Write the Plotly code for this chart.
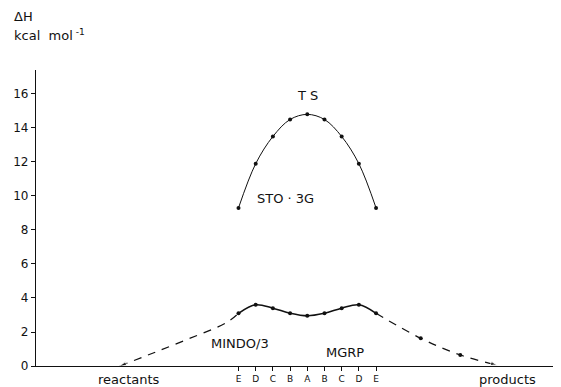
import plotly.graph_objects as go

# reaction-coordinate categories (A = transition state)
step_labels = ["E", "D", "C", "B", "A", "B", "C", "D", "E"]
step_pos = [-4, -3, -2, -1, 0, 1, 2, 3, 4]

# STO-3G energies along the path (kcal/mol)
sto3g = [9.3, 11.9, 13.5, 14.5, 14.8, 14.5, 13.5, 11.9, 9.3]
# MINDO/3 energies along the path (kcal/mol)
mindo = [3.1, 3.6, 3.4, 3.1, 2.95, 3.1, 3.4, 3.6, 3.1]

# dashed MINDO/3 branches toward reactants / products
react_x = [-10.9, -9.0, -6.9, -4.7, -4.0]
react_y = [0.0, 0.75, 1.6, 2.55, 3.1]
prod_x = [4.0, 6.6, 8.9, 11.05]
prod_y = [3.1, 1.63, 0.65, 0.05]
prod_marker_x = [6.6, 8.9]
prod_marker_y = [1.63, 0.65]

y_ticks = [0, 2, 4, 6, 8, 10, 12, 14, 16]

FONT = "DejaVu Sans"
BLACK = "#111111"

fig = go.Figure()

dash_line = dict(color=BLACK, width=1.2, dash="8px,7px", shape="spline")
fig.add_trace(go.Scatter(x=react_x, y=react_y, mode="lines", line=dash_line,
                         hoverinfo="skip", showlegend=False))
fig.add_trace(go.Scatter(x=prod_x, y=prod_y, mode="lines", line=dash_line,
                         hoverinfo="skip", showlegend=False))
fig.add_trace(go.Scatter(x=prod_marker_x, y=prod_marker_y, mode="markers",
                         marker=dict(color=BLACK, size=4),
                         hoverinfo="skip", showlegend=False))
# arrowheads at the ends of the dashed branches
fig.add_trace(go.Scatter(x=[react_x[1], react_x[0]], y=[react_y[1], react_y[0]],
                         mode="markers",
                         marker=dict(color=BLACK, size=[0, 7], symbol="arrow",
                                     angleref="previous"),
                         hoverinfo="skip", showlegend=False))
fig.add_trace(go.Scatter(x=[prod_x[-2], prod_x[-1]], y=[prod_y[-2], prod_y[-1]],
                         mode="markers",
                         marker=dict(color=BLACK, size=[0, 7], symbol="arrow",
                                     angleref="previous"),
                         hoverinfo="skip", showlegend=False))

fig.add_trace(go.Scatter(x=step_pos, y=sto3g, mode="lines+markers",
                         line=dict(color=BLACK, width=1, shape="spline"),
                         marker=dict(color=BLACK, size=4),
                         showlegend=False))
fig.add_trace(go.Scatter(x=step_pos, y=mindo, mode="lines+markers",
                         line=dict(color=BLACK, width=1.6, shape="spline"),
                         marker=dict(color=BLACK, size=4),
                         showlegend=False))

txt = dict(family=FONT, size=13, color=BLACK)
annotations = [
    dict(x=0, y=15.9, text="T S", showarrow=False, font=txt),
    dict(x=-1.28, y=9.88, text="STO · 3G", showarrow=False, font=txt),
    dict(x=-3.9, y=1.35, text="MINDO/3", showarrow=False, font=txt),
    dict(x=2.2, y=0.8, text="MGRP", showarrow=False, font=txt),
    dict(x=-10.35, yref="paper", y=-0.047, yanchor="middle",
         text="reactants", showarrow=False, font=txt),
    dict(x=11.66, yref="paper", y=-0.047, yanchor="middle",
         text="products", showarrow=False, font=txt),
    dict(xref="paper", yref="paper", x=-0.046, y=1.214, xanchor="left",
         text="ΔH", showarrow=False, font=txt),
    dict(xref="paper", yref="paper", x=-0.046, y=1.152, xanchor="left",
         text="kcal  mol<sup> -1</sup>", showarrow=False, font=txt),
]

# the page body adds an 8px offset, so the figure is 8px smaller each way
fig.update_layout(
    width=553, height=379,
    margin=dict(l=28, r=6, t=62, b=21),
    paper_bgcolor="white", plot_bgcolor="white",
    font=dict(family=FONT, size=12, color=BLACK),
    annotations=annotations,
    xaxis=dict(range=[-15.78, 14.41], tickvals=step_pos, ticktext=step_labels,
               automargin=False,
               showgrid=False, zeroline=False, showline=True, linecolor=BLACK,
               linewidth=1.2, ticks="outside", ticklen=4, tickcolor=BLACK,
               tickwidth=1, tickfont=dict(family=FONT, size=9, color=BLACK)),
    yaxis=dict(range=[0, 17.41], tickvals=y_ticks, showgrid=False, zeroline=False,
               automargin=False,
               showline=True, linecolor=BLACK, linewidth=1.2, ticks="outside",
               ticklen=4, tickcolor=BLACK, tickwidth=1,
               tickfont=dict(family=FONT, size=12, color=BLACK)),
)

fig.write_html("out.html")
